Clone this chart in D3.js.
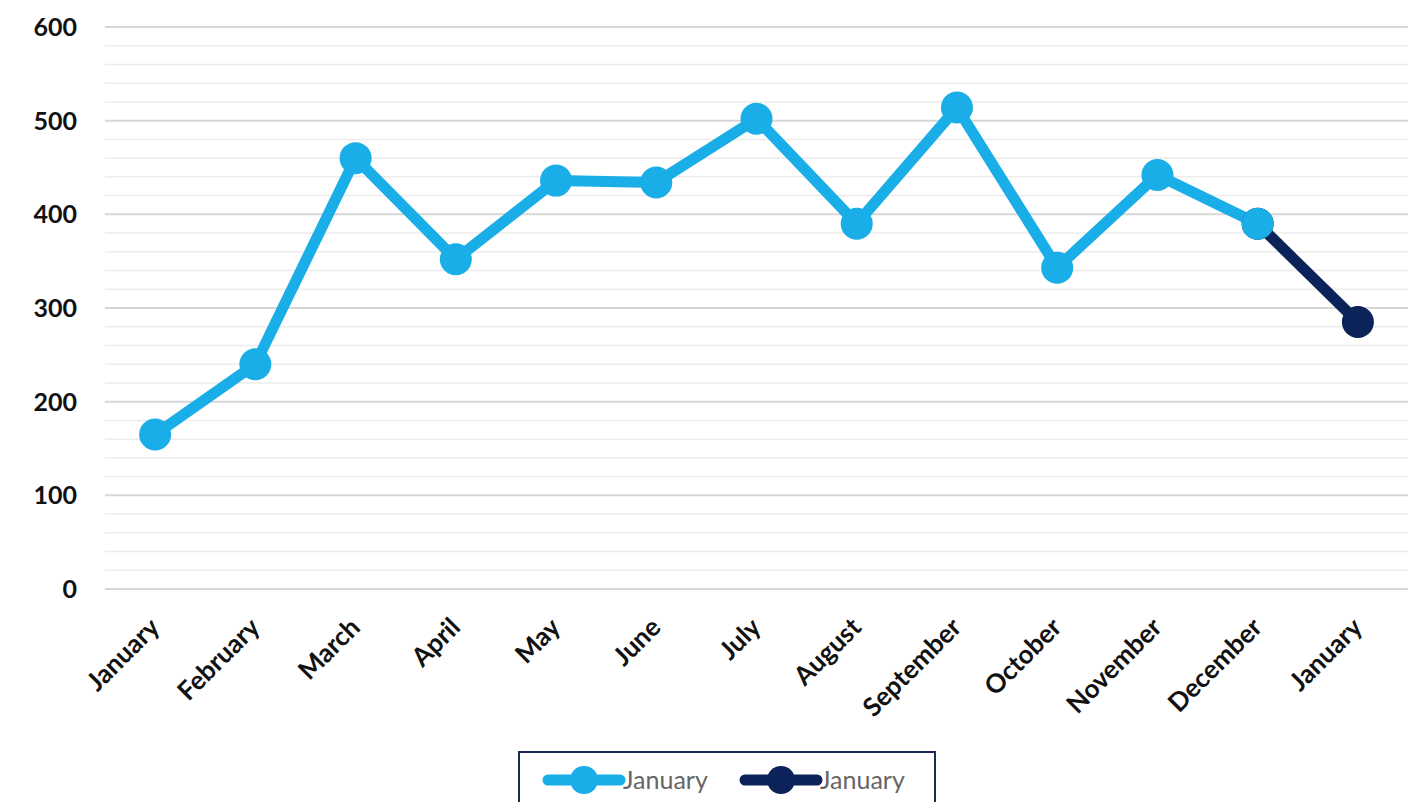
<!DOCTYPE html>
<html>
<head>
<meta charset="utf-8">
<script src="https://cdn.jsdelivr.net/npm/d3@7"></script>
<style>
  body { margin: 0; background: #fff; }
  svg { display: block; }
</style>
</head>
<body>
<svg id="chart" width="1420" height="802"></svg>
<script>
// data
const months = ["January", "February", "March", "April", "May", "June", "July",
  "August", "September", "October", "November", "December", "January"];
const mainValues = [165, 240, 460, 352, 436, 434, 502, 390, 514, 343, 442, 390, null];
const tailValues = [null, null, null, null, null, null, null, null, null, null, null, 390, 285];
const legendNames = ["January", "January"];
const yTicks = [0, 100, 200, 300, 400, 500, 600];

const plotL = 105, plotR = 1408, plotT = 27, plotB = 589;

const svg = d3.select("#chart");

// band positions so each point sits in the middle of its slot
const x = d3.scaleBand()
  .domain(d3.range(months.length))
  .range([plotL, plotR]);
const cx = i => x(i) + x.bandwidth() / 2;

const y = d3.scaleLinear().domain([0, 600]).range([plotB, plotT]);

// grid, minor first then major
svg.append("g")
  .selectAll("line")
  .data(d3.range(0, 601, 20).filter(v => v % 100 !== 0))
  .join("line")
  .attr("x1", plotL).attr("x2", plotR)
  .attr("y1", d => y(d)).attr("y2", d => y(d))
  .attr("stroke", "#ececec").attr("stroke-width", 1.5);

svg.append("g")
  .selectAll("line")
  .data(yTicks)
  .join("line")
  .attr("x1", plotL).attr("x2", plotR)
  .attr("y1", d => y(d)).attr("y2", d => y(d))
  .attr("stroke", "#d6d6d6").attr("stroke-width", 2);

// y labels
svg.append("g")
  .selectAll("text")
  .data(yTicks)
  .join("text")
  .attr("x", 77)
  .attr("y", d => y(d))
  .attr("dy", "0.36em")
  .attr("text-anchor", "end")
  .attr("font-family", "Lato, sans-serif")
  .attr("font-weight", "bold")
  .attr("font-size", 25)
  .attr("fill", "#111")
  .text(d => d);

// x labels, rotated
svg.append("g")
  .selectAll("text")
  .data(months)
  .join("text")
  .attr("transform", (d, i) => `translate(${cx(i) + 6},${plotB + 40}) rotate(-45)`)
  .attr("text-anchor", "end")
  .attr("font-family", "Lato, sans-serif")
  .attr("font-weight", "bold")
  .attr("font-size", 26)
  .attr("fill", "#111")
  .text(d => d);

const series = [
  { values: mainValues, color: "#19aee8" },
  { values: tailValues, color: "#0b2358" }
];

const line = d3.line()
  .defined(d => d != null)
  .x((d, i) => cx(i))
  .y(d => y(d));

// draw the dark tail first so the light marker at December sits over it
[series[1], series[0]].forEach(s => {
  svg.append("path")
    .datum(s.values)
    .attr("d", line)
    .attr("fill", "none")
    .attr("stroke", s.color)
    .attr("stroke-width", 11)
    .attr("stroke-linejoin", "round");
});
[series[1], series[0]].forEach(s => {
  svg.append("g")
    .selectAll("circle")
    .data(s.values.map((v, i) => ({ v, i })).filter(d => d.v != null))
    .join("circle")
    .attr("cx", d => cx(d.i))
    .attr("cy", d => y(d.v))
    .attr("r", 16)
    .attr("fill", s.color);
});

// legend box
const lg = svg.append("g");
lg.append("rect")
  .attr("x", 519).attr("y", 752)
  .attr("width", 416).attr("height", 70)
  .attr("fill", "#fff")
  .attr("stroke", "#1b2a55").attr("stroke-width", 2);

const items = lg.selectAll("g.item")
  .data(series)
  .join("g")
  .attr("class", "item")
  .attr("transform", (d, i) => `translate(${548 + i * 197},780)`);
items.append("line")
  .attr("x1", 0).attr("x2", 72)
  .attr("stroke", d => d.color)
  .attr("stroke-width", 11)
  .attr("stroke-linecap", "round");
items.append("circle")
  .attr("cx", 36).attr("r", 14)
  .attr("fill", d => d.color);
items.append("text")
  .attr("x", 75)
  .attr("dy", "0.35em")
  .attr("font-family", "Lato, sans-serif")
  .attr("font-size", 25)
  .attr("fill", "#666")
  .text((d, i) => legendNames[i]);
</script>
</body>
</html>
